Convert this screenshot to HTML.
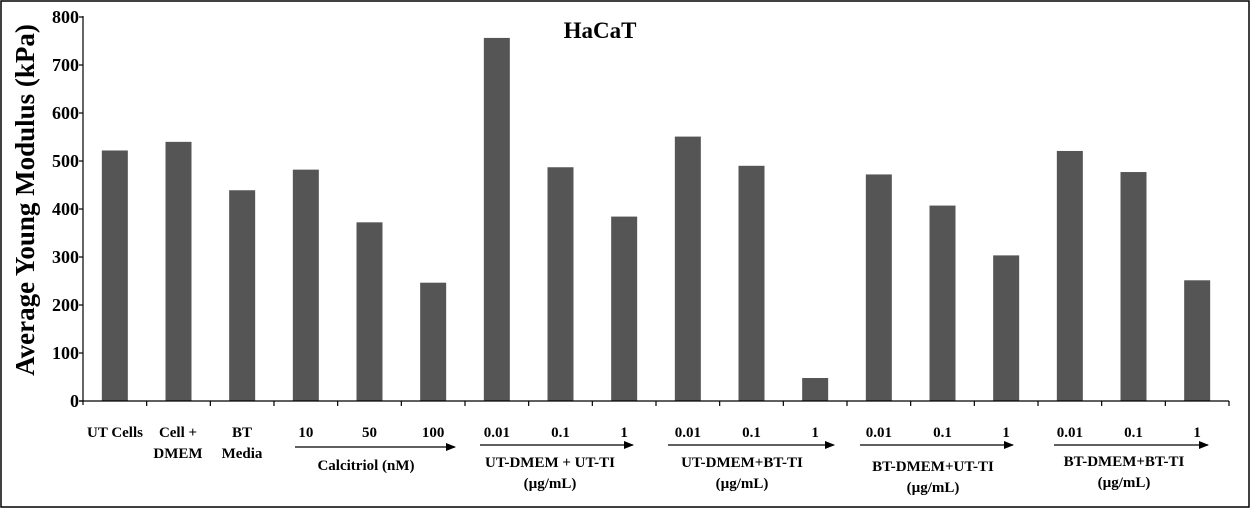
<!DOCTYPE html>
<html><head><meta charset="utf-8"><style>body{margin:0;background:#fff}svg{display:block}text{font-family:"Liberation Serif",serif;font-weight:bold;fill:#000}</style></head><body>
<svg width="1251" height="509" viewBox="0 0 1251 509" xmlns="http://www.w3.org/2000/svg">
<defs><marker id="a" markerWidth="10" markerHeight="8" refX="9" refY="4" orient="auto" markerUnits="userSpaceOnUse"><path d="M0,0 L10,4 L0,8 Z" fill="#000"/></marker></defs>
<rect x="1" y="1" width="1248" height="506" fill="#fff" stroke="#000" stroke-width="1.5"/>
<text x="600" y="38" font-size="23" text-anchor="middle">HaCaT</text>
<text transform="translate(34,200) rotate(-90)" font-size="27" text-anchor="middle">Average Young Modulus (kPa)</text>
<g font-size="18" text-anchor="end">
<text x="79" y="407">0</text><text x="79" y="359">100</text><text x="79" y="311">200</text><text x="79" y="263">300</text><text x="79" y="215">400</text><text x="79" y="167">500</text><text x="79" y="119">600</text><text x="79" y="71">700</text><text x="79" y="23">800</text>
</g>
<g stroke="#000" stroke-width="1.2">
<line x1="83" y1="16" x2="83" y2="405"/>
<line x1="79" y1="17" x2="83" y2="17"/><line x1="79" y1="65" x2="83" y2="65"/><line x1="79" y1="113" x2="83" y2="113"/><line x1="79" y1="161" x2="83" y2="161"/><line x1="79" y1="209" x2="83" y2="209"/><line x1="79" y1="257" x2="83" y2="257"/><line x1="79" y1="305" x2="83" y2="305"/><line x1="79" y1="353" x2="83" y2="353"/><line x1="79" y1="401" x2="83" y2="401"/>
</g>
<g id="bars" fill="#555"></g>
<g id="axis" stroke="#000" stroke-width="1.2"><line x1="79" y1="401" x2="1229" y2="401"/></g>
<g id="labs" font-size="15" text-anchor="middle">
<text x="115" y="437">UT Cells</text>
<text x="178" y="437">Cell +</text><text x="178" y="458">DMEM</text>
<text x="242" y="437">BT</text><text x="242" y="458">Media</text>
</g>
<g stroke="#000" stroke-width="1.3" marker-end="url(#a)">
<line x1="295" y1="447" x2="455" y2="447"/>
<line x1="480" y1="445" x2="633" y2="445"/>
<line x1="668" y1="445" x2="834" y2="445"/>
<line x1="860" y1="445" x2="1013" y2="445"/>
<line x1="1054" y1="445" x2="1208" y2="445"/>
</g>
<g font-size="15" text-anchor="middle">
<text x="366" y="470">Calcitriol (nM)</text>
<text x="550" y="467">UT-DMEM + UT-TI</text><text x="550" y="488">(µg/mL)</text>
<text x="742" y="467">UT-DMEM+BT-TI</text><text x="742" y="488">(µg/mL)</text>
<text x="933" y="471">BT-DMEM+UT-TI</text><text x="933" y="492">(µg/mL)</text>
<text x="1124" y="466">BT-DMEM+BT-TI</text><text x="1124" y="487">(µg/mL)</text>
</g>
<script>
var v=[523,541,440,483,373,247,758,488,385,552,491,48,473,408,304,522,478,252];
var lb=["","","","10","50","100","0.01","0.1","1","0.01","0.1","1","0.01","0.1","1","0.01","0.1","1"];
var ns="http://www.w3.org/2000/svg",b=document.getElementById("bars"),ax=document.getElementById("axis"),L=document.getElementById("labs");
var w=(1229-83)/18;
for(var i=0;i<18;i++){var c=83+w*(i+0.5),h=v[i]*0.479;
var r=document.createElementNS(ns,"rect");r.setAttribute("x",c-13);r.setAttribute("y",401-h);r.setAttribute("width",26);r.setAttribute("height",h);b.appendChild(r);
var t=document.createElementNS(ns,"line");var tx=83+w*(i+1);t.setAttribute("x1",tx);t.setAttribute("x2",tx);t.setAttribute("y1",401);t.setAttribute("y2",406);ax.appendChild(t);
if(lb[i]){var s=document.createElementNS(ns,"text");s.setAttribute("x",c);s.setAttribute("y",437);s.textContent=lb[i];L.appendChild(s);}}
</script>
</svg>
</body></html>
